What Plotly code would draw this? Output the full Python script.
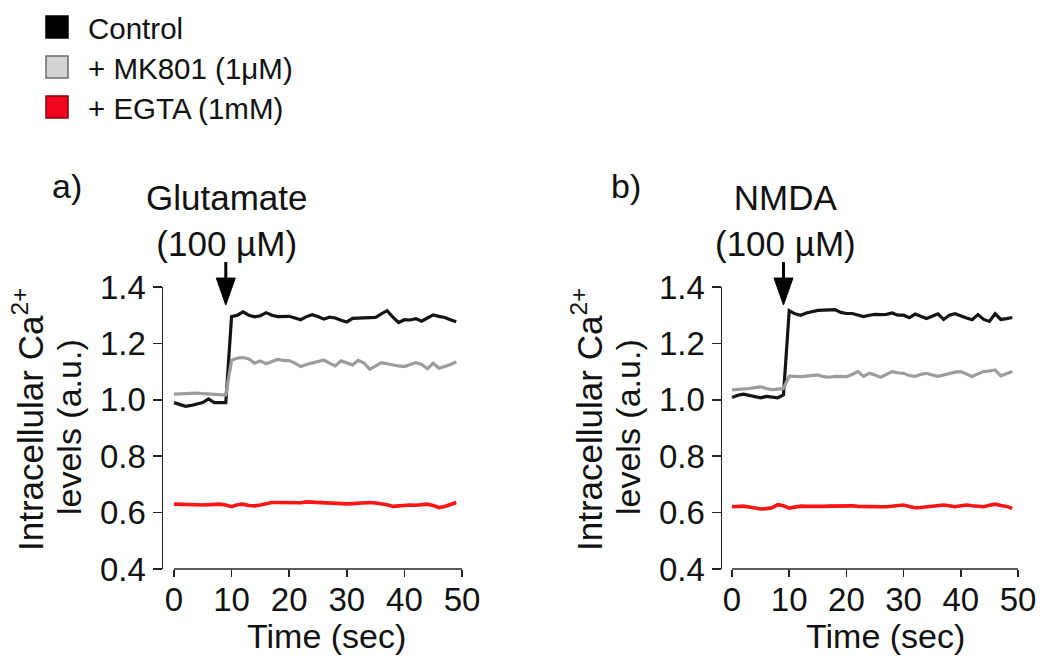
import plotly.graph_objects as go

# ---------------- data ----------------
time_sec = list(range(50))

control_glu = [0.990, 0.982, 0.977, 0.980, 0.985, 0.990, 1.003, 0.990, 0.990, 0.990,
               1.295, 1.300, 1.312, 1.300, 1.294, 1.298, 1.309, 1.300, 1.295, 1.295,
               1.296, 1.290, 1.284, 1.295, 1.302, 1.295, 1.286, 1.293, 1.290, 1.282,
               1.276, 1.289, 1.290, 1.291, 1.290, 1.292, 1.305, 1.316, 1.293, 1.274,
               1.284, 1.283, 1.288, 1.279, 1.290, 1.301, 1.296, 1.292, 1.284, 1.277]
mk801_glu = [1.020, 1.021, 1.023, 1.025, 1.024, 1.022, 1.021, 1.020, 1.018, 1.017,
             1.140, 1.148, 1.150, 1.145, 1.130, 1.138, 1.128, 1.135, 1.143, 1.140,
             1.139, 1.130, 1.118, 1.125, 1.130, 1.136, 1.141, 1.130, 1.120, 1.138,
             1.130, 1.124, 1.140, 1.130, 1.108, 1.120, 1.132, 1.128, 1.123, 1.120,
             1.118, 1.125, 1.132, 1.125, 1.110, 1.130, 1.112, 1.118, 1.125, 1.135]
egta_glu = [0.630, 0.630, 0.631, 0.630, 0.628, 0.627, 0.628, 0.630, 0.630, 0.627,
            0.621, 0.628, 0.630, 0.625, 0.624, 0.627, 0.632, 0.636, 0.636, 0.635,
            0.634, 0.633, 0.635, 0.638, 0.637, 0.634, 0.632, 0.631, 0.631, 0.631,
            0.631, 0.632, 0.634, 0.635, 0.636, 0.634, 0.632, 0.628, 0.622, 0.624,
            0.627, 0.627, 0.626, 0.628, 0.630, 0.625, 0.618, 0.622, 0.630, 0.636]

control_nmda = [1.008, 1.016, 1.020, 1.015, 1.010, 1.007, 1.012, 1.010, 1.007, 1.018,
                1.316, 1.305, 1.300, 1.308, 1.312, 1.317, 1.318, 1.318, 1.320, 1.310,
                1.306, 1.306, 1.300, 1.295, 1.300, 1.303, 1.302, 1.303, 1.308, 1.300,
                1.300, 1.291, 1.304, 1.295, 1.288, 1.296, 1.305, 1.285, 1.300, 1.305,
                1.296, 1.290, 1.284, 1.302, 1.285, 1.278, 1.305, 1.285, 1.288, 1.292]
mk801_nmda = [1.035, 1.036, 1.038, 1.040, 1.043, 1.046, 1.040, 1.036, 1.038, 1.040,
              1.084, 1.083, 1.082, 1.084, 1.086, 1.088, 1.082, 1.080, 1.083, 1.082,
              1.082, 1.090, 1.100, 1.083, 1.094, 1.088, 1.080, 1.090, 1.100, 1.096,
              1.094, 1.086, 1.083, 1.090, 1.094, 1.088, 1.083, 1.088, 1.094, 1.098,
              1.100, 1.090, 1.083, 1.092, 1.100, 1.102, 1.106, 1.085, 1.092, 1.100]
egta_nmda = [0.621, 0.622, 0.623, 0.620, 0.616, 0.613, 0.614, 0.617, 0.628, 0.624,
             0.616, 0.619, 0.623, 0.622, 0.621, 0.621, 0.622, 0.623, 0.623, 0.624,
             0.626, 0.624, 0.622, 0.621, 0.621, 0.621, 0.621, 0.621, 0.622, 0.624,
             0.627, 0.622, 0.617, 0.618, 0.620, 0.621, 0.624, 0.627, 0.624, 0.621,
             0.624, 0.627, 0.624, 0.622, 0.621, 0.626, 0.630, 0.625, 0.622, 0.615]

series_names = ["Control", "+ MK801 (1\u03bcM)", "+ EGTA (1mM)"]
x_ticks = [0, 10, 20, 30, 40, 50]
y_ticks = [0.4, 0.6, 0.8, 1.0, 1.2, 1.4]
stimulus_time = 9
arrow_tip_level = 1.336
panel_labels = ["a)", "b)"]
stimulus_labels = ["Glutamate<br>(100 \u00b5M)", "NMDA<br>(100 \u00b5M)"]
y_title_lines = ["Intracellular Ca<sup>2+</sup>", "levels (a.u.)"]
x_title = "Time (sec)"

# ---------------- styling ----------------
W, H = 1043, 657
FONT = "Liberation Sans, Arial, sans-serif"
line_colors = ["#141414", "#9c9c9c", "#ff1414"]
legend_fill = ["#000000", "#d4d4d4", "#f0061e"]
legend_border = ["#000000", "#6a6a6a", "#8a0010"]
AX = "#222222"
TXT = "#111111"
Y_RANGE = [y_ticks[0], y_ticks[-1]]


def px(x):
    return x / W


def py(y):
    return 1 - y / H


panels = [
    dict(vals=[control_glu, mk801_glu, egta_glu], xdom=(163, 462), xr=[-1.9, 50], off=0),
    dict(vals=[control_nmda, mk801_nmda, egta_nmda], xdom=(722, 1018), xr=[-1.75, 50], off=559),
]

fig = go.Figure()
shapes = []
annotations = []


def text(t, x, y, size, **kw):
    d = dict(text=t, x=px(x), y=py(y), xref="paper", yref="paper", showarrow=False,
             xanchor="center", yanchor="middle", font=dict(family=FONT, size=size, color=TXT))
    d.update(kw)
    annotations.append(d)


for i, p in enumerate(panels):
    xa = "x" if i == 0 else "x2"
    ya = "y" if i == 0 else "y2"
    for s, vals in enumerate(p["vals"]):
        fig.add_trace(go.Scatter(
            x=time_sec, y=vals, mode="lines", name=series_names[s],
            line=dict(color=line_colors[s], width=3.2 if s < 2 else 3.6),
            xaxis=xa, yaxis=ya, showlegend=False, hoverinfo="skip"))

    key = "" if i == 0 else "2"
    fig.layout["xaxis" + key] = dict(
        domain=[px(p["xdom"][0]), px(p["xdom"][1])], range=p["xr"], anchor=ya,
        automargin=False, showline=False, showgrid=False, zeroline=False,
        tickvals=x_ticks, ticks="outside", ticklen=7, tickwidth=1.5, tickcolor=AX,
        ticklabelstandoff=-6, tickfont=dict(family=FONT, size=33, color=TXT))
    fig.layout["yaxis" + key] = dict(
        domain=[py(569), py(287)], range=Y_RANGE, anchor=xa,
        automargin=False, showline=True, linecolor=AX, linewidth=1.5,
        showgrid=False, zeroline=False,
        tickvals=y_ticks, tickformat=".1f", ticks="outside", ticklen=9, tickwidth=1.5,
        tickcolor=AX, tickfont=dict(family=FONT, size=33, color=TXT))

    # detached x axis line spanning the tick range
    shapes.append(dict(type="line", xref=xa, yref=ya + " domain",
                       x0=x_ticks[0], x1=x_ticks[-1], y0=0, y1=0,
                       line=dict(color=AX, width=1.5)))

    # stimulus arrow: anchored at the stimulus time via axis-domain fractions (unclipped)
    ax_frac = (stimulus_time - p["xr"][0]) / (p["xr"][1] - p["xr"][0])
    ay_frac = (arrow_tip_level - Y_RANGE[0]) / (Y_RANGE[1] - Y_RANGE[0])
    common = dict(xref=xa + " domain", yref=ya + " domain", xsizemode="pixel",
                  ysizemode="pixel", xanchor=ax_frac, yanchor=ay_frac)
    shapes.append(dict(type="path", path="M0,43 L0,24",
                       line=dict(color="#000", width=3), **common))
    shapes.append(dict(type="path", path="M-9.5,27 L9.5,27 L0,0 Z", fillcolor="#000",
                       line=dict(color="#000", width=1), **common))

    off = p["off"]
    text(panel_labels[i], 67 + off, 186, 34)
    text(stimulus_labels[i], 226 + off, 220, 35)
    text(y_title_lines[0], 28 + off, 420, 35, textangle=-90)
    text(y_title_lines[1], 69 + off, 427, 34, textangle=-90)
    text(x_title, 326 + off, 636, 34)

# legend (drawn manually: filled squares with borders)
row_y = [27, 67, 107]
for s, name in enumerate(series_names):
    shapes.append(dict(type="rect", xref="paper", yref="paper",
                       x0=px(46), x1=px(68), y0=py(row_y[s] + 11), y1=py(row_y[s] - 11),
                       fillcolor=legend_fill[s], line=dict(color=legend_border[s], width=1.5)))
    text(name, 86, row_y[s] + 1, 29.5, xanchor="left")

fig.update_layout(width=W, height=H, margin=dict(l=0, r=0, t=0, b=0, autoexpand=False),
                  paper_bgcolor="white", plot_bgcolor="white",
                  shapes=shapes, annotations=annotations, showlegend=False)

fig.write_html("out.html", config={"displayModeBar": False, "staticPlot": True},
               post_script="document.body.style.margin='0';document.body.style.overflow='hidden';")
